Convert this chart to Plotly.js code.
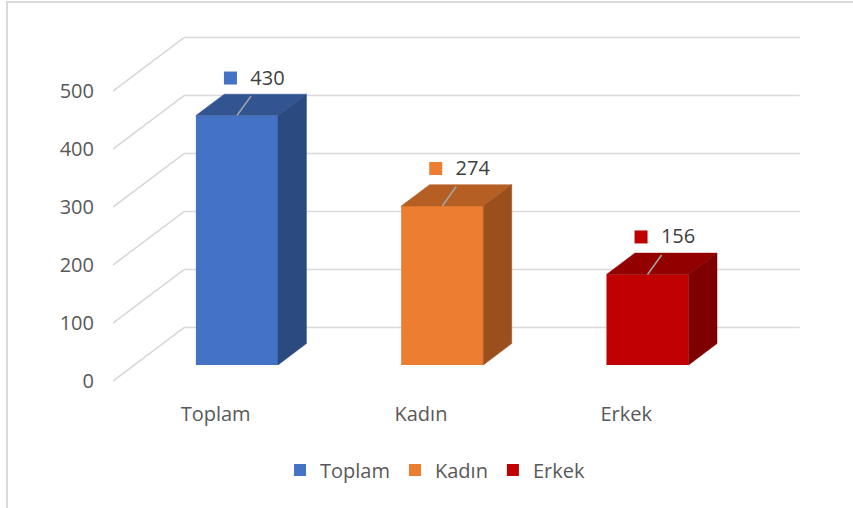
<!DOCTYPE html>
<html>
<head>
<meta charset="utf-8">
<script src="https://cdn.plot.ly/plotly-3.0.1.min.js"></script>
<style>
  html, body { margin: 0; padding: 0; background: #ffffff; overflow: hidden; }
  #chart { position: absolute; left: 0; top: 0; width: 853px; height: 508px; }
  #frame { position: absolute; left: 6px; top: 1px; width: 900px; height: 600px;
           border: 2px solid #D9D9D9; pointer-events: none; z-index: 10; }
</style>
</head>
<body>
<div id="chart"></div>
<div id="frame"></div>
<script>
// ---- data ----
const categories = ['Toplam', 'Kadın', 'Erkek'];
const values = [430, 274, 156];
const yTickVals = [0, 100, 200, 300, 400, 500];
const yTickText = ['0', '100', '200', '300', '400', '500'];

// ---- style ----
const frontColors = ['#4472C4', '#ED7D31', '#C00000'];
const topColors   = ['#325592', '#B65F24', '#920000'];
const sideColors  = ['#2A4A80', '#9A4F1D', '#7E0000'];
const gridColor = '#D9D9D9';
const FONT = 'Open Sans, Noto Sans, sans-serif';

// 3D projection (depth offsets in data units)
const DX = 0.3458;   // category units for full depth
const DY = 92.2;     // value units for full depth
const Z0 = 0.3, Z1 = 0.7;   // bar depth span
const HALF = 0.2;           // half bar width (category units)

const xRange = [-0.5, 2.895];
const yRange = [-32.76, 622.41];

const traces = [];

// back wall gridlines + left wall diagonals
const gx = [], gy = [];
yTickVals.forEach(t => {
  gx.push(-0.5 + DX, categories.length - 0.5 + DX, null);
  gy.push(t + DY, t + DY, null);
  gx.push(-0.5, -0.5 + DX, null);
  gy.push(t, t + DY, null);
});
traces.push({
  type: 'scatter', mode: 'lines', x: gx, y: gy, xaxis: 'x', yaxis: 'y',
  line: { color: gridColor, width: 1.6 }, hoverinfo: 'skip', showlegend: false
});

categories.forEach((c, i) => {
  const v = values[i];
  // front face
  traces.push({
    type: 'bar', name: c, x: [i + Z0 * DX], y: [v], base: [Z0 * DY], width: [2 * HALF],
    xaxis: 'x2', yaxis: 'y2', marker: { color: frontColors[i], line: { width: 0 } },
    hoverinfo: 'skip', showlegend: true
  });
  const xl = i - HALF, xr = i + HALF;
  // top face
  traces.push({
    type: 'scatter', mode: 'lines', fill: 'toself', xaxis: 'x2', yaxis: 'y2',
    x: [xl + Z0 * DX, xr + Z0 * DX, xr + Z1 * DX, xl + Z1 * DX, xl + Z0 * DX],
    y: [v + Z0 * DY, v + Z0 * DY, v + Z1 * DY, v + Z1 * DY, v + Z0 * DY],
    fillcolor: topColors[i], line: { color: topColors[i], width: 0.5 },
    hoverinfo: 'skip', showlegend: false
  });
  // side face
  traces.push({
    type: 'scatter', mode: 'lines', fill: 'toself', xaxis: 'x2', yaxis: 'y2',
    x: [xr + Z0 * DX, xr + Z1 * DX, xr + Z1 * DX, xr + Z0 * DX, xr + Z0 * DX],
    y: [Z0 * DY, Z1 * DY, v + Z1 * DY, v + Z0 * DY, Z0 * DY],
    fillcolor: sideColors[i], line: { color: sideColors[i], width: 0.5 },
    hoverinfo: 'skip', showlegend: false
  });
  // leader line
  const fx = i + Z0 * DX, fy = v + Z0 * DY;
  traces.push({
    type: 'scatter', mode: 'lines', xaxis: 'x2', yaxis: 'y2',
    x: [fx, fx + 0.0682], y: [fy, fy + 33.6],
    line: { color: '#A6A6A6', width: 1.5 }, hoverinfo: 'skip', showlegend: false
  });
  // label key square
  traces.push({
    type: 'scatter', mode: 'markers', xaxis: 'x2', yaxis: 'y2',
    x: [fx - 0.0317], y: [fy + 64.7],
    marker: { symbol: 'square', size: 13, color: frontColors[i], line: { width: 0 } },
    hoverinfo: 'skip', showlegend: false
  });
  // label text
  traces.push({
    type: 'scatter', mode: 'text', xaxis: 'x2', yaxis: 'y2',
    x: [fx + 0.1486], y: [fy + 62.1], text: [String(v)], textposition: 'middle center',
    textfont: { family: FONT, size: 20, color: '#404040' },
    hoverinfo: 'skip', showlegend: false
  });
});

const layout = {
  width: 853, height: 508,
  margin: { l: 113, r: 43, t: 20, b: 108 },
  paper_bgcolor: 'rgba(0,0,0,0)', plot_bgcolor: 'rgba(0,0,0,0)',
  barmode: 'overlay',
  showlegend: true,
  legend: {
    orientation: 'h', xref: 'container', yref: 'container',
    x: 0.51, xanchor: 'center', y: 0.075, yanchor: 'middle',
    font: { family: FONT, size: 20, color: '#595959' },
    itemwidth: 30, traceorder: 'normal'
  },
  xaxis: {
    range: xRange, fixedrange: true, showgrid: false, zeroline: false, showline: false,
    tickmode: 'array', tickvals: categories.map((c, i) => i), ticktext: categories,
    ticks: '', tickfont: { family: FONT, size: 20, color: '#595959' }
  },
  yaxis: {
    range: yRange, fixedrange: true, showgrid: false, zeroline: false, showline: false,
    tickmode: 'array', tickvals: yTickVals, ticktext: yTickText,
    ticks: '', ticklabelstandoff: 18, tickfont: { family: FONT, size: 20, color: '#595959' }
  },
  xaxis2: { overlaying: 'x', range: xRange, visible: false, fixedrange: true },
  yaxis2: { overlaying: 'y', range: yRange, visible: false, fixedrange: true },
  font: { family: FONT }
};

Plotly.newPlot('chart', traces, layout, { displayModeBar: false, staticPlot: true });
</script>
</body>
</html>
